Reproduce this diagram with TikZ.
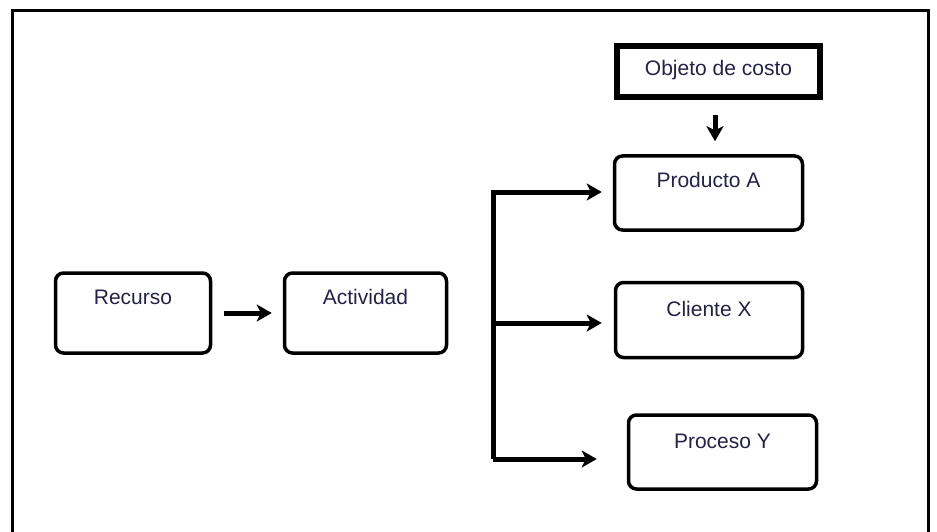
\documentclass[tikz,border=0pt]{standalone}
\usepackage{fontspec}
\setmainfont{Liberation Sans}
\usetikzlibrary{arrows.meta,calc}
\definecolor{txt}{RGB}{35,35,70}
\begin{document}
\begin{tikzpicture}[x=1pt,y=-1pt,
  box/.style={draw=black,line width=3.5pt,rounded corners=8pt,inner sep=0pt,
    font=\fontsize{21}{24}\selectfont,text=txt,fill=white},
  thickbox/.style={draw=black,line width=6pt,inner sep=0pt,
    font=\fontsize{21}{24}\selectfont,text=txt,fill=white},
  arr/.style={line width=5pt,-{Stealth[length=15pt,width=17pt,inset=4pt]}}]
\useasboundingbox (0,0) rectangle (937,532);
\clip (0,0) rectangle (937,532);
\fill[white] (0,0) rectangle (937,532);
\draw[line width=3.5pt] (12.5,10.5) rectangle (928.5,560);

\node[box,minimum width=155pt,text height=31.5pt,text depth=48.5pt] (rec) at (133,313) {Recurso};
\node[box,minimum width=162pt,text height=31.5pt,text depth=48.5pt] (act) at (365.5,313) {Actividad};
\node[box,minimum width=188pt,text height=31.5pt,text depth=42.5pt] (pa) at (708.5,193) {Producto A};
\node[box,minimum width=187pt,text height=33.5pt,text depth=41.5pt] (cx) at (709,320) {Cliente X};
\node[box,minimum width=188pt,text height=33.5pt,text depth=40.5pt] (py) at (722.5,452) {Proceso Y};
\node[thickbox,minimum width=203pt,text height=29pt,text depth=22pt] (obj) at (718.5,72) {Objeto de costo};

\draw[arr] ([xshift=12pt]rec.east) -- ([xshift=-11pt]act.west);
\draw[arr] ($(obj.south)+(-3.5,15)$) -- ($(obj.south |- pa.north)+(-3.5,-13)$);

\coordinate (t1) at (493,192);
\coordinate (t2) at (493,323);
\coordinate (t3) at (493,459);
\draw[arr] (t3) -- (t1) -- ($(t1 -| pa.west)+(-11,0)$);
\draw[arr] (t2) -- ($(t2 -| cx.west)+(-12,0)$);
\draw[arr] (t3) -- ($(t3 -| py.west)+(-30,0)$);
\end{tikzpicture}
\end{document}
